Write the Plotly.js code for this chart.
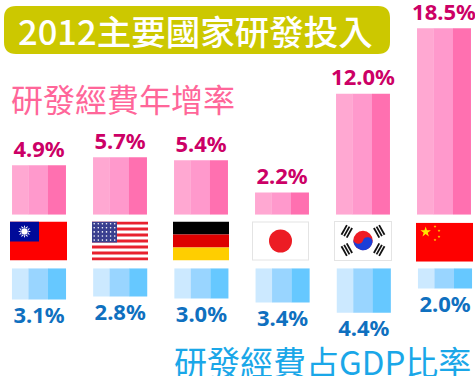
<!DOCTYPE html>
<html><head><meta charset="utf-8">
<script src="https://cdn.plot.ly/plotly-3.0.1.min.js"></script>
<style>html,body{margin:0;padding:0;background:#fff}#c{width:475px;height:376px}</style>
</head><body><div id="c"></div>
<script>
const countries = ['台灣','美國','德國','日本','韓國','中國'];
const growthRate = [4.9,5.7,5.4,2.2,12.0,18.5];
const gdpShare = [3.1,2.8,3.0,3.4,4.4,2.0];
const titleText = '2012主要國家研發投入';
const growthTitle = '研發經費年增率';
const gdpTitle = '研發經費占GDP比率';
const pinkShades = ['#FFA8D2','#FF99CC','#FF70B0'];
const blueShades = ['#CCE9FF','#99D5FF','#66C8FF'];
const bandLeft = [-0.333,-0.13,0.111];
const bandWidths = [0.206,0.243,0.222];

const idx = countries.map((_,i)=>i);
const W=475,H=376;
const pinkBase=214.7, blueTop=268.3, pxPerUnit=10.08;
const fmt = v => v.toFixed(1)+'%';
const traces=[];
[0,1,2].forEach(b=>{
  traces.push({type:'bar',x:idx,y:growthRate,xaxis:'x',yaxis:'y',width:bandWidths[b],offset:bandLeft[b],
    marker:{color:pinkShades[b],line:{width:0}},hoverinfo:'skip',showlegend:false});
  traces.push({type:'bar',x:idx,y:gdpShare,xaxis:'x2',yaxis:'y2',width:bandWidths[b],offset:bandLeft[b],
    marker:{color:blueShades[b],line:{width:0}},hoverinfo:'skip',showlegend:false});
});
const labelFont={family:'"Noto Sans",sans-serif',size:22};
traces.push({type:'scatter',mode:'markers+text',x:idx,y:growthRate,xaxis:'x',yaxis:'y',text:growthRate.map(fmt),textposition:'top center',
  marker:{size:3,opacity:0},textfont:{...labelFont,color:'#CC0066',weight:700},cliponaxis:false,hoverinfo:'skip',showlegend:false});
traces.push({type:'scatter',mode:'markers+text',x:idx,y:gdpShare,xaxis:'x2',yaxis:'y2',text:gdpShare.map(fmt),textposition:'bottom center',
  marker:{size:10,opacity:0},textfont:{...labelFont,color:'#0F70BF',weight:700},cliponaxis:false,hoverinfo:'skip',showlegend:false});

function svg(w,h,body){return 'data:image/svg+xml;base64,'+btoa('<svg xmlns="http://www.w3.org/2000/svg" width="'+w+'" height="'+h+'" viewBox="0 0 '+w+' '+h+'" preserveAspectRatio="none">'+body+'</svg>');}
function star(cx,cy,r,fill,rot){let p=[];for(let i=0;i<10;i++){const a=(rot||0)-Math.PI/2+i*Math.PI/5,q=i%2?r*0.382:r;p.push((cx+q*Math.cos(a)).toFixed(2)+','+(cy+q*Math.sin(a)).toFixed(2));}return '<polygon points="'+p.join(' ')+'" fill="'+fill+'"/>';}
function rocSun(cx,cy){let s='';for(let i=0;i<12;i++){const a=i*Math.PI/6;const x=cx+6.5*Math.cos(a),y=cy+6.5*Math.sin(a),l=cx+3.5*Math.cos(a+.26),m=cy+3.5*Math.sin(a+.26),n=cx+3.5*Math.cos(a-.26),o=cy+3.5*Math.sin(a-.26);s+='<polygon fill="#fff" points="'+x+','+y+' '+l+','+m+' '+n+','+o+'"/>';}return s+'<circle cx="'+cx+'" cy="'+cy+'" r="3.6" fill="#fff" stroke="#000a99" stroke-width=".6"/>';}
const roc=svg(57,39,'<rect width="57" height="39" fill="#FE0000"/><rect width="29" height="20" fill="#000A99"/>'+rocSun(14.5,10));
let usBody='<rect width="56" height="39" fill="#fff"/>';
for(let i=0;i<7;i++)usBody+='<rect y="'+(i*6).toFixed(1)+'" width="56" height="3" fill="#E8212E"/>';
usBody+='<rect width="25" height="21" fill="#3A3F8F"/>';
for(let r=0;r<5;r++)for(let c=0;c<6;c++)usBody+='<circle cx="'+(2.2+c*4.1)+'" cy="'+(2.2+r*4.1)+'" r=".8" fill="#fff"/>';
const us=svg(56,39,usBody);
const de=svg(56,39,'<rect width="56" height="13" fill="#000"/><rect y="13" width="56" height="13" fill="#DD0000"/><rect y="26" width="56" height="13" fill="#FFCE00"/>');
const jp=svg(57,39,'<rect width="57" height="39" fill="#fff" stroke="#E4E4E4" stroke-width="2"/><circle cx="28.5" cy="19.5" r="11.5" fill="#EC1C24"/>');
let krTri='';
[[-16,-9],[16,9],[16,-9],[-16,9]].forEach(d=>{const a=Math.atan2(d[1],d[0])*180/Math.PI+90;for(let k=0;k<3;k++)krTri+='<rect x="-5.5" y="'+(-22.5+k*3)+'" width="11" height="1.8" fill="#111" transform="translate(29 19.5) rotate('+a+')"/>';});
const kr=svg(58,40,'<rect width="58" height="40" fill="#fff" stroke="#E4E4E4" stroke-width="2"/>'+krTri+'<circle cx="29" cy="19.5" r="9.7" fill="#EE1C25"/><path d="M19.5 17.5 A9.7 9.7 0 0 0 38.5 21.5 A4.9 4.9 0 0 0 29 19.5 A4.9 4.9 0 0 1 19.5 17.5Z" fill="#1A3FD8"/>');
const cn=svg(57,39,'<rect width="57" height="39" fill="#FE0000"/>'+star(9.7,9.3,5.5,'#FFE600')+star(19,3.8,1.5,'#FFE600')+star(23,8,1.5,'#FFE600')+star(23,14,1.5,'#FFE600')+star(19,17.3,1.5,'#FFE600'));
const flags=[roc,us,de,jp,kr,cn];
const flagX=[38.5,120,201,280.5,363,444.5], flagW=[57,56,56,57,58,57], flagH=[39,39,39,39,40,39], flagTop=[221.5,221.5,221.5,221.5,221,222.7];
const images=flags.map((src,i)=>({source:src,xref:'paper',yref:'paper',x:(flagX[i]-flagW[i]/2)/W,y:1-flagTop[i]/H,sizex:flagW[i]/W,sizey:flagH[i]/H,xanchor:'left',yanchor:'top',sizing:'stretch',layer:'above'}));

const r=12,x0=4,x1=390,y0=6,y1=54;
const roundRect=`M ${(x0+r)/W} ${1-y0/H} L ${(x1-r)/W} ${1-y0/H} Q ${x1/W} ${1-y0/H} ${x1/W} ${1-(y0+r)/H} L ${x1/W} ${1-(y1-r)/H} Q ${x1/W} ${1-y1/H} ${(x1-r)/W} ${1-y1/H} L ${(x0+r)/W} ${1-y1/H} Q ${x0/W} ${1-y1/H} ${x0/W} ${1-(y1-r)/H} L ${x0/W} ${1-(y0+r)/H} Q ${x0/W} ${1-y0/H} ${(x0+r)/W} ${1-y0/H} Z`;

const cjk='"Noto Sans CJK TC",sans-serif';
const ann=(text,cx,cy,size,color,weight)=>({text,xref:'paper',yref:'paper',x:cx/W,y:1-cy/H,xanchor:'center',yanchor:'middle',showarrow:false,font:{family:cjk,size,color,weight}});
const topRange=pinkBase/pxPerUnit, botRange=(H-blueTop)/pxPerUnit;
const axisOff={visible:false,fixedrange:true};
const layout={width:W,height:H,margin:{l:0,r:0,t:0,b:0,pad:0},paper_bgcolor:'#fff',plot_bgcolor:'rgba(0,0,0,0)',barmode:'overlay',showlegend:false,
  xaxis:{...axisOff,range:[-39/81,(W-39)/81],domain:[0,1],anchor:'y'},
  xaxis2:{...axisOff,range:[-39/81.2,(W-39)/81.2],domain:[0,1],anchor:'y2'},
  yaxis:{...axisOff,range:[0,topRange],domain:[1-pinkBase/H,1],anchor:'x'},
  yaxis2:{...axisOff,range:[botRange,0],domain:[0,1-blueTop/H],anchor:'x2'},
  shapes:[{type:'path',xref:'paper',yref:'paper',path:roundRect,fillcolor:'#CCC800',line:{width:0},layer:'below'}],
  images,
  annotations:[ann(titleText,195,30,34.5,'#ffffff',500),ann(growthTitle,122.5,98,32,'#FF6699',400),ann(gdpTitle,322.5,361,33,'#1AA7E8',400)]};
Plotly.newPlot('c',traces,layout,{staticPlot:true,displayModeBar:false});
</script></body></html>
